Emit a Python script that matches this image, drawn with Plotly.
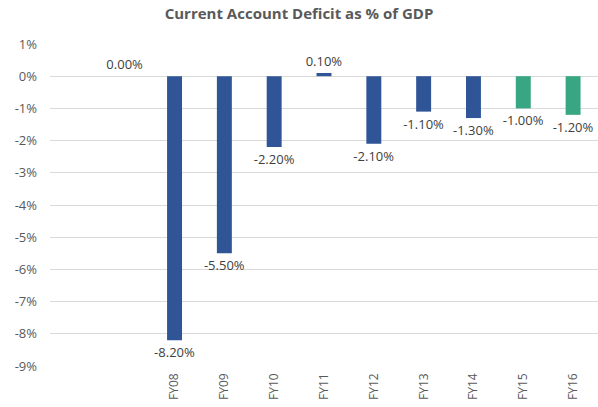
import plotly.graph_objects as go

categories = [" ", "  ", "FY08", "FY09", "FY10", "FY11", "FY12", "FY13", "FY14", "FY15", "FY16"]
values = [None, 0.0, -8.2, -5.5, -2.2, 0.1, -2.1, -1.1, -1.3, -1.0, -1.2]
labels = ["", "0.00%", "-8.20%", "-5.50%", "-2.20%", "0.10%", "-2.10%", "-1.10%", "-1.30%", "-1.00%", "-1.20%"]
colors = ["#2F5597"] * 9 + ["#38A583"] * 2
tick_vals = [1, 0, -1, -2, -3, -4, -5, -6, -7, -8, -9]
tick_text = ["1%", "0%", "-1%", "-2%", "-3%", "-4%", "-5%", "-6%", "-7%", "-8%", "-9%"]

FONT = "Open Sans, Calibri, Arial"

fig = go.Figure()
fig.add_trace(go.Bar(
    x=categories, y=values, marker_color=colors, width=0.3,
    text=labels, textposition="outside", cliponaxis=False, constraintext="none",
    textfont=dict(family=FONT, size=13, color="#404040"),
    marker_line_width=0, hoverinfo="skip",
))

fig.update_layout(
    width=598, height=407,
    margin=dict(l=50, r=0, t=44, b=41),
    paper_bgcolor="white", plot_bgcolor="white",
    title=dict(text="<b>Current Account Deficit as % of GDP</b>", x=0.5, xanchor="center",
               y=0.965, yanchor="middle",
               font=dict(family=FONT, size=15, color="#595959")),
    showlegend=False,
    bargap=0.7,
)
fig.update_yaxes(range=[-9, 1], tickvals=tick_vals, ticktext=tick_text, automargin=False,
                 showgrid=True, gridcolor="#D9D9D9", gridwidth=1, zeroline=False,
                 tickfont=dict(family=FONT, size=13, color="#595959"),
                 ticks="", showline=False, ticklabelstandoff=12)
fig.update_xaxes(tickangle=-90, showline=False, ticks="", showgrid=False, automargin=False,
                 tickfont=dict(family=FONT, size=12, color="#595959"), ticklabelstandoff=4)

fig.write_html("out.html", config={"displayModeBar": False},
               post_script="document.body.style.margin='0';")
